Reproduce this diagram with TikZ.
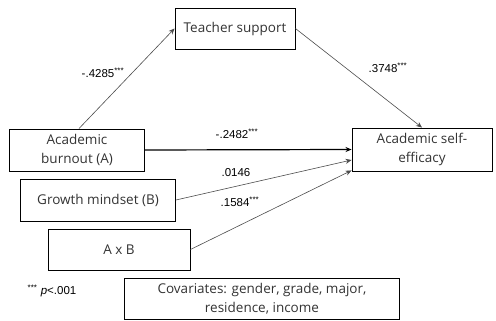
\documentclass[tikz,border=0pt]{standalone}
\usepackage{fontspec}
\setmainfont{Open Sans}
\newfontfamily\labfont{Liberation Sans}
\usetikzlibrary{arrows.meta,calc}
\begin{document}
\begin{tikzpicture}[x=1pt,y=-1pt,
  box/.style={draw=black,line width=0.9pt,fill=white,inner sep=0pt,align=center,
    font=\fontsize{13.5}{19}\selectfont,text=black!80},
  arr/.style={draw=black!70,line width=0.6pt,-{Stealth[length=6pt,width=5pt]}},
  lab/.style={font=\labfont\fontsize{11.5}{13}\selectfont,inner sep=0pt}]
\useasboundingbox (0,0) rectangle (496,321);
\node[box,minimum width=120pt,minimum height=41pt] (teacher) at (235,28.5) {Teacher support};
\node[box,minimum width=135pt,minimum height=42pt] (burnout) at (77,150) {Academic\\burnout (A)};
\node[box,minimum width=140pt,minimum height=43pt] (self) at (422,149.5) {Academic self-\\efficacy};
\node[box,minimum width=155pt,minimum height=42pt] (growth) at (98,200) {Growth mindset (B)};
\node[box,minimum width=142pt,minimum height=41pt] (axb) at (119,249.5) {A x B};
\node[box,minimum width=275pt,minimum height=41pt] (cov) at (262,298.5) {Covariates: gender, grade, major,\\residence, income};
\coordinate (gend) at ($(self.west)+(0,10.5)$);
\coordinate (aend) at ($(self.south west)+(0,-1)$);
\draw[arr] ($(burnout.north)+(2,0)$) -- (teacher.west);
\draw[arr] (teacher.east) -- (self.north);
\draw[arr,draw=black,line width=1.2pt] (burnout.east) -- (self.west);
\draw[arr] (growth.east) -- (gend);
\draw[arr] (axb.east) -- (aend);
\node[lab] (l1) at (103,73) {-.4285\textsuperscript{***}};
\node[lab] (l2) at (237,134) {-.2482\textsuperscript{***}};
\node[lab] (l3) at (388,68) {.3748\textsuperscript{***}};
\node[lab] (l4) at (236,173) {.0146};
\node[lab] (l5) at (240,202) {.1584\textsuperscript{***}};
\node[lab] (note) at (52,291) {\textsuperscript{***} \textit{p}<.001};
\end{tikzpicture}
\end{document}
